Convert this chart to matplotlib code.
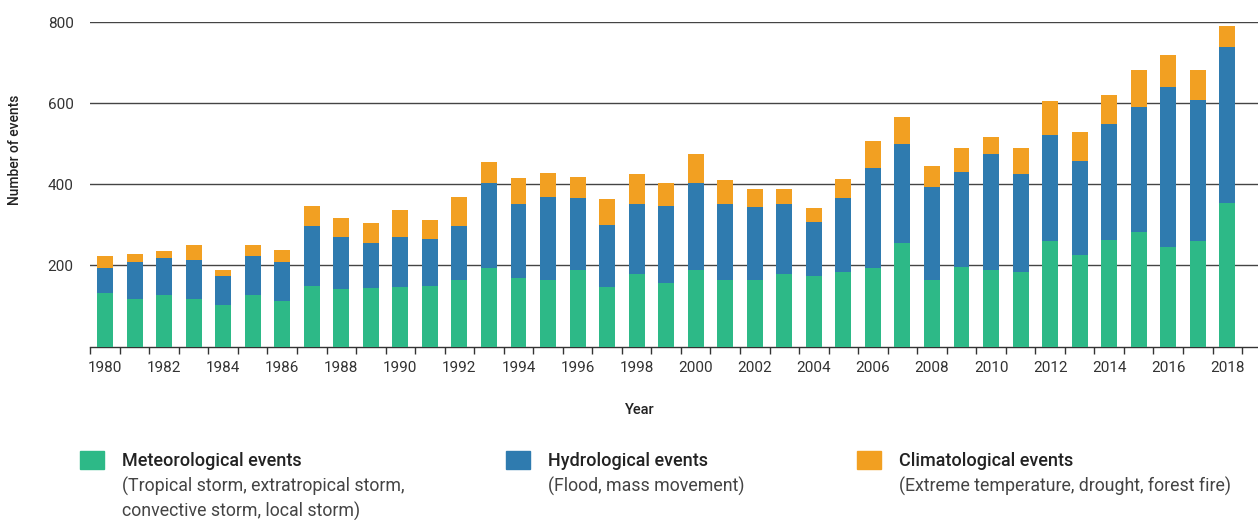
import numpy as np
import matplotlib
matplotlib.use("Agg")
import matplotlib.pyplot as plt
from matplotlib.patches import Rectangle

plt.rcParams['font.family'] = ['Roboto', 'DejaVu Sans']

years = list(range(1980, 2019))
meteorological = [132, 118, 127, 118, 103, 127, 113, 150, 142, 145,
                  147, 150, 164, 194, 169, 164, 189, 147, 179, 157,
                  189, 164, 164, 179, 174, 184, 194, 256, 164, 196,
                  189, 184, 261, 226, 263, 283, 246, 261, 354]
hydrological = [62, 91, 91, 96, 71, 96, 96, 148, 128, 111,
                123, 116, 133, 209, 182, 205, 178, 153, 173, 190,
                214, 188, 180, 173, 133, 183, 247, 242, 229, 234,
                286, 242, 261, 232, 286, 308, 394, 347, 385]
climatological = [30, 20, 17, 37, 15, 27, 30, 49, 47, 49,
                  67, 47, 71, 52, 64, 59, 52, 64, 74, 57,
                  72, 59, 44, 37, 35, 47, 66, 67, 52, 59,
                  42, 64, 84, 71, 71, 91, 79, 74, 52]

series_names = ["Meteorological events", "Hydrological events", "Climatological events"]
series_notes = ["(Tropical storm, extratropical storm,\nconvective storm, local storm)",
                "(Flood, mass movement)",
                "(Extreme temperature, drought, forest fire)"]
colors = ["#2DB987", "#2F7BAF", "#F2A022"]

W, H = 1258, 520
fig = plt.figure(figsize=(W / 100, H / 100), dpi=100)
ax = fig.add_axes([90.3 / W, 1 - 346.5 / H, 1 - 90.3 / W, (346.5 - 22) / H])

x = np.arange(len(years))
bw = 0.54
m = np.array(meteorological)
h = np.array(hydrological)
c = np.array(climatological)
ax.bar(x, m, bw, color=colors[0], zorder=3)
ax.bar(x, h, bw, bottom=m, color=colors[1], zorder=3)
ax.bar(x, c, bw, bottom=m + h, color=colors[2], zorder=3)

ax.set_xlim(-0.5, 39.04)
ax.set_ylim(0, 800)
ax.set_yticks([200, 400, 600, 800])
ax.yaxis.grid(True, color="#444444", linewidth=1.0, zorder=0)
ax.tick_params(axis='y', length=0, pad=12, labelsize=11, labelcolor="#333333")

ax.set_xticks(x[::2])
ax.set_xticklabels([str(y) for y in years[::2]])
ax.set_xticks(np.arange(len(years) + 1) - 0.5, minor=True)
ax.tick_params(axis='x', which='major', length=0, pad=10.5, labelsize=11, labelcolor="#333333")
ax.tick_params(axis='x', which='minor', length=5, width=1, color="#333333", direction='out')

for s in ['top', 'right', 'left']:
    ax.spines[s].set_visible(False)
ax.spines['bottom'].set_color("#333333")
ax.spines['bottom'].set_linewidth(1.0)

fig.text(15 / W, 1 - 150 / H, "Number of events", rotation=90, ha='center', va='center',
         fontsize=10, fontweight='medium', color="#222222")
fig.text(640 / W, 1 - 410 / H, "Year", ha='center', va='center',
         fontsize=10.5, fontweight='medium', color="#222222")

# legend
sq_x = [80, 506, 857]
for i in range(3):
    fig.patches.append(Rectangle((sq_x[i] / W, 1 - 469 / H), 24 / W, 18 / H,
                                 transform=fig.transFigure, color=colors[i]))
    fig.text((sq_x[i] + 42) / W, 1 - 461 / H, series_names[i], ha='left', va='center',
             fontsize=13, fontweight='medium', color="#222222")
    fig.text((sq_x[i] + 42) / W, 1 - 477 / H, series_notes[i], ha='left', va='top',
             fontsize=12.8, color="#444444", linespacing=1.38)

fig.savefig("out.png", dpi=100)
